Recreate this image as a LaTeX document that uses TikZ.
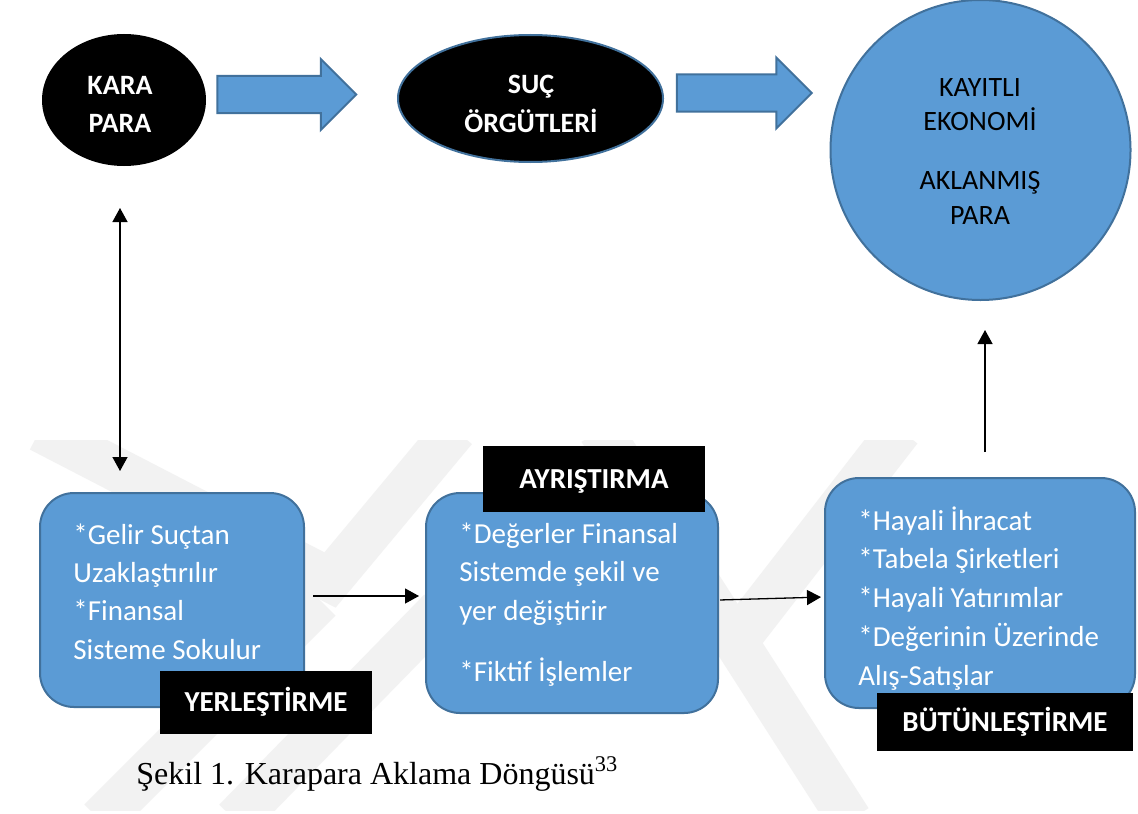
\documentclass[tikz,border=0pt]{standalone}
\usepackage{fontspec}
\setmainfont{Carlito}
\newfontfamily\capfont{Liberation Serif}
\usetikzlibrary{shapes.geometric,shapes.arrows,arrows.meta}
\definecolor{ofblue}{HTML}{5B9BD5}
\definecolor{ofedge}{HTML}{41719C}
\definecolor{wmark}{HTML}{F2F2F2}
\newcommand\cstack[1]{\vtop{\halign{\hfil##\hfil\cr#1\crcr}}}
\newcommand\lstack[1]{\vtop{\halign{##\hfil\cr#1\crcr}}}
\begin{document}
\begin{tikzpicture}[x=0.5pt,y=-0.5pt,
  wm/.style={draw=wmark,line width=22pt,line join=miter},
  bluebox/.style={rectangle,draw=ofedge,line width=1pt,fill=ofblue,rounded corners=17pt,inner sep=0pt},
  blockarrow/.style={single arrow,draw=ofedge,line width=1pt,fill=ofblue,inner xsep=0pt,inner ysep=8.75pt,text height=0pt,text depth=0pt,single arrow head extend=8.5pt,single arrow tip angle=90},
  stagebox/.style={rectangle,fill=black,inner sep=0pt,text=white,font=\bfseries\fontsize{14.5}{17}\selectfont,text height=9.3pt,text depth=0pt},
  boxtext/.style={inner sep=0pt,text=white,anchor=base west},
  arr/.style={-{Triangle[length=7pt,width=7.5pt]},line width=0.65pt},
  darr/.style={{Triangle[length=7pt,width=7.5pt]}-{Triangle[length=7pt,width=7.5pt]},line width=0.65pt}]
\useasboundingbox (0,0) rectangle (1138,813);
\fill[white] (0,0) rectangle (1138,813);
% watermark
\begin{scope}
\clip (0,440) rectangle (1138,810);
\draw[wm] (40,430) -- (330,580) -- (455,430);
\draw[wm] (100,820) -- (320,600);
\draw[wm] (235,820) -- (440,610);
\draw[wm] (600,430) -- (850,820);
\draw[wm] (900,430) -- (745,630);
\end{scope}
% top row
\node[ellipse,fill=black,draw=black,line width=1pt,minimum width=81pt,minimum height=65pt,inner sep=0pt] (kara) at (124,100) {};
\node[inner sep=0pt,anchor=base,text=white,font=\bfseries\fontsize{14}{18.5}\selectfont] (karat) at (120,95) {\cstack{KARA\cr PARA}};
\node[ellipse,fill=black,draw=ofedge,line width=1pt,minimum width=132.5pt,minimum height=63.5pt,inner sep=0pt] (suc) at (530.5,98.5) {};
\node[inner sep=0pt,anchor=base,text=white,font=\bfseries\fontsize{14}{19}\selectfont] (suct) at (531,94) {\cstack{SUÇ\cr ÖRGÜTLERİ}};
\node[circle,draw=ofedge,line width=1pt,fill=ofblue,minimum size=150pt,inner sep=0pt] (circ) at (980.5,150) {};
\node[inner sep=0pt,anchor=base,font=\fontsize{14}{17}\selectfont] (circt) at (980,97) {\cstack{KAYITLI\cr EKONOMİ\cr\noalign{\vskip 12.5pt} AKLANMIŞ\cr PARA}};
\node[blockarrow,minimum height=69.5pt] (ba1) at (277.5,94.5) {};
\node[blockarrow,minimum height=67.5pt] (ba2) at (735,93) {};
% boxes
\node[bluebox,minimum width=132pt,minimum height=107pt] (box1) at (172,600) {};
\node[bluebox,minimum width=146pt,minimum height=110pt] (box2) at (572,603) {};
\node[bluebox,minimum width=155pt,minimum height=115pt] (box3) at (980,593) {};
\node[boxtext,font=\fontsize{14.5}{19.2}\selectfont] (t1) at (73,544) {\lstack{*Gelir Suçtan\cr Uzaklaştırılır\cr *Finansal\cr Sisteme Sokulur}};
\node[boxtext,font=\fontsize{14.5}{19.25}\selectfont] (t2) at (459,543) {\lstack{*Değerler Finansal\cr Sistemde şekil ve\cr yer değiştirir\cr\noalign{\vskip 11.25pt} *Fiktif İşlemler}};
\node[boxtext,font=\fontsize{14.5}{19.4}\selectfont] (t3) at (858,530) {\lstack{*Hayali İhracat\cr *Tabela Şirketleri\cr *Hayali Yatırımlar\cr *Değerinin Üzerinde\cr Alış-Satışlar}};
% stage labels
\node[stagebox,minimum width=106pt,minimum height=31.5pt] (lab1) at (266,702.5) {YERLEŞTİRME};
\node[stagebox,minimum width=111pt,minimum height=33pt] (lab2) at (594,479) {AYRIŞTIRMA};
\node[stagebox,minimum width=128pt,minimum height=29pt] (lab3) at (1005,722) {BÜTÜNLEŞTİRME};
% connectors
\draw[darr,shorten <=21pt,shorten >=10.5pt] ([xshift=-2pt]kara.south) -- ([xshift=-2pt]kara.south |- box1.north);
\draw[arr,shorten <=4pt,shorten >=3pt] ([yshift=2pt]box1.east) -- ([yshift=3.5pt]box2.west);
\draw[arr,shorten <=0.5pt,shorten >=1.5pt] ([yshift=1.5pt]box2.east) -- ([yshift=-2pt]box3.west);
\draw[arr,shorten <=12.5pt,shorten >=14.5pt] ([xshift=2.5pt]box3.north) -- ([xshift=2.5pt]box3.north |- circ.south);
% caption
\node[inner sep=0pt,anchor=base west,font=\capfont\fontsize{16}{19}\selectfont] (cap) at (136,784) {Şekil 1. Karapara Aklama Döngüsü\textsuperscript{33}};
\end{tikzpicture}
\end{document}
